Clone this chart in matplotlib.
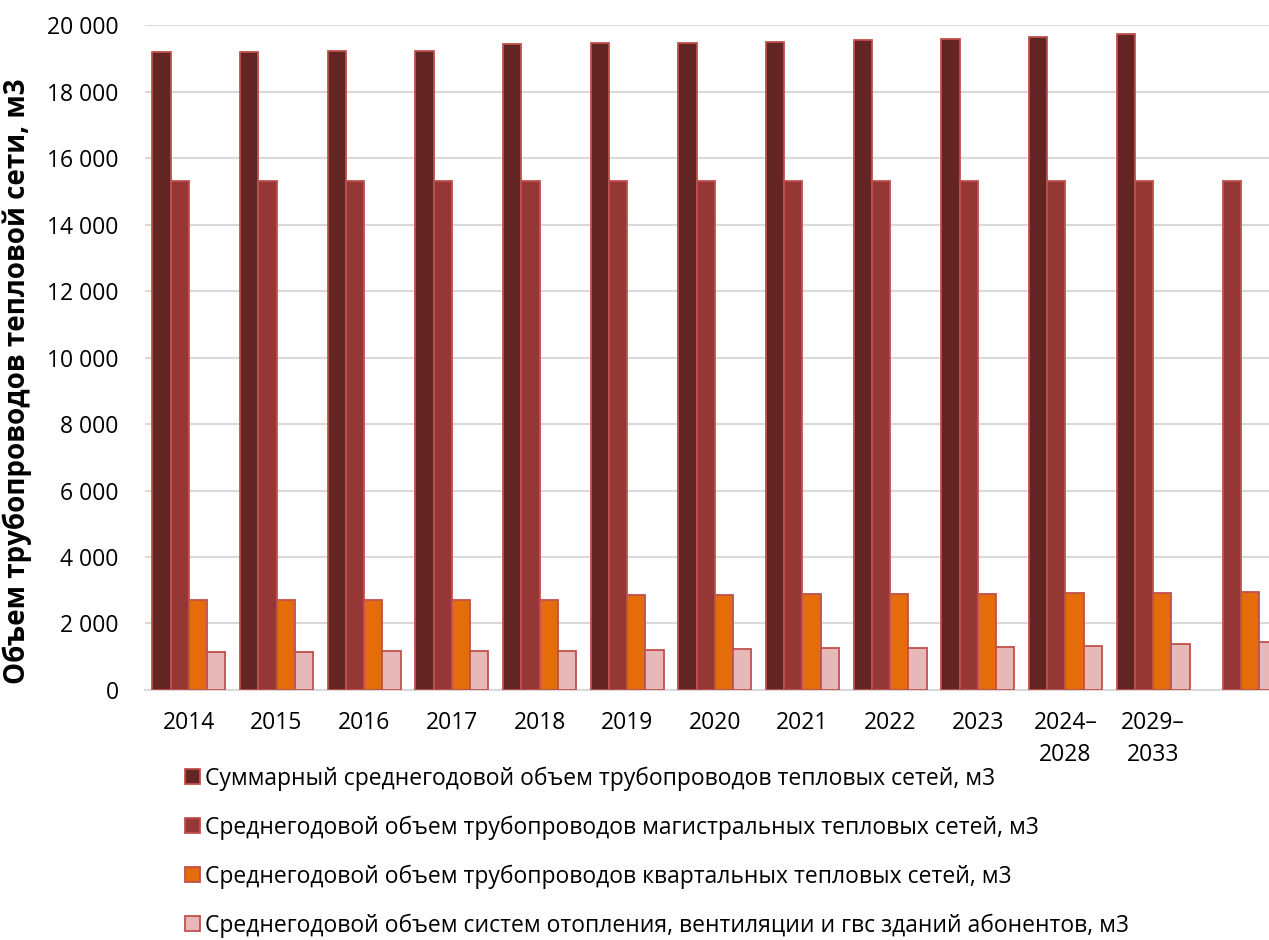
import numpy as np
import matplotlib
matplotlib.use("Agg")
import matplotlib.pyplot as plt
from matplotlib.patches import Patch
from matplotlib.ticker import FuncFormatter

plt.rcParams["font.family"] = ["Open Sans", "DejaVu Sans"]

# categories (last group has no label in the source)
categories = ["2014", "2015", "2016", "2017", "2018", "2019", "2020",
              "2021", "2022", "2023", "2024–\n2028", "2029–\n2033", ""]

total = [19190, 19205, 19235, 19235, 19430, 19460, 19480,
         19510, 19550, 19580, 19640, 19745, np.nan]
main_net = [15310, 15310, 15310, 15310, 15310, 15310, 15310,
            15310, 15310, 15310, 15310, 15310, 15310]
quarter_net = [2695, 2695, 2705, 2705, 2705, 2855, 2865,
               2875, 2890, 2900, 2920, 2925, 2945]
buildings = [1145, 1155, 1165, 1185, 1185, 1215, 1235,
             1255, 1275, 1295, 1315, 1385, 1455]

series_names = [
    "Суммарный среднегодовой объем трубопроводов тепловых сетей, м3",
    "Среднегодовой объем трубопроводов магистральных тепловых сетей, м3",
    "Среднегодовой объем трубопроводов квартальных тепловых сетей, м3",
    "Среднегодовой объем систем отопления, вентиляции и гвс зданий абонентов, м3",
]
colors = ["#632523", "#953735", "#E46C0A", "#E6B9B8"]
edge = "#C0504D"

fig = plt.figure(figsize=(12.69, 9.4), dpi=100)
ax = fig.add_axes([0.1143, 0.266, 0.898, 0.7071])

x = np.arange(len(categories))
w = 1 / 4.8
for i, vals in enumerate([total, main_net, quarter_net, buildings]):
    ax.bar(x + (i - 1.5) * w, vals, width=w, color=colors[i],
           edgecolor=edge, linewidth=1.3, zorder=3)

ax.set_xlim(-0.5, len(categories) - 0.5)
ax.set_ylim(0, 20000)
ax.set_yticks(np.arange(0, 20001, 2000))
ax.yaxis.set_major_formatter(FuncFormatter(lambda v, p: f"{int(v):,}".replace(",", " ")))
ax.set_xticks(x)
ax.set_xticklabels(categories, linespacing=1.45)

ax.grid(axis="y", color="#D9D9D9", linewidth=1.5, zorder=0)
for s in ["top", "right", "left"]:
    ax.spines[s].set_visible(False)
ax.spines["bottom"].set_color("#D9D9D9")
ax.spines["bottom"].set_linewidth(1.5)
ax.tick_params(axis="both", length=0, labelsize=16.5, colors="black")
ax.tick_params(axis="y", pad=19)
ax.tick_params(axis="x", pad=15)

ax.set_ylabel("Объем трубопроводов тепловой сети, м3", fontsize=20, fontweight="bold")
ax.yaxis.set_label_coords(-0.099, 0.465)

handles = [Patch(facecolor=c, edgecolor=edge, linewidth=1.3) for c in colors]
fig.legend(handles, series_names, loc="upper left",
           bbox_to_anchor=(176 / 1269, 1 - 757 / 940), frameon=False,
           fontsize=16.5, handlelength=0.65, handleheight=0.65,
           handletextpad=0.2, labelspacing=1.08, borderaxespad=0)

fig.savefig("out.png", dpi=100)
